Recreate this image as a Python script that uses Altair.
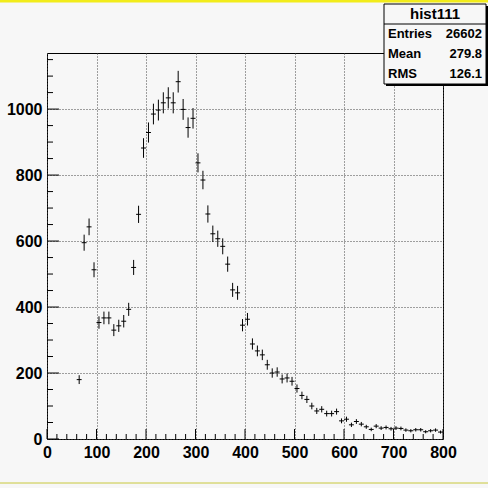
import altair as alt
import pandas as pd
import numpy as np

# ---- data ----
bin_centers = list(range(65, 800, 10))
counts = [180, 595, 643, 513, 353, 367, 367, 330, 343, 357, 393, 520, 681,
          882, 929, 985, 997, 1019, 1034, 1019, 1083, 999, 944, 972, 837, 785,
          682, 622, 607, 584,
          530, 452, 443, 345, 363, 288, 267, 255, 225, 200, 203, 182, 185, 175,
          153, 132, 120, 100, 85, 90, 77, 77, 83, 55,
          60, 43, 53, 45, 37, 29, 39, 33, 35, 31, 33, 32, 27, 25, 28, 28, 22,
          25, 27, 21]
x_major = [0, 100, 200, 300, 400, 500, 600, 700, 800]
x_minor = [v for v in range(0, 801, 20) if v % 100]
y_major = [0, 200, 400, 600, 800, 1000]
y_minor = [v for v in range(0, 1151, 50) if v % 200]
stat_title = "hist111"
stat_labels = ["Entries", "Mean", "RMS"]
stat_values = ["26602", "279.8", "126.1"]

W, H = 396, 386
FONT = "Liberation Sans"
BG = "#f7f7f7"

df = pd.DataFrame({"x": bin_centers, "n": counts})
df["lo"] = df["n"] - np.sqrt(df["n"])
df["hi"] = df["n"] + np.sqrt(df["n"])
df["x0"] = df["x"] - 5
df["x1"] = df["x"] + 5

xs = alt.Scale(domain=[0, 800], nice=False, zero=False)
ys = alt.Scale(domain=[0, 1170], nice=False, zero=False)

common_axis = dict(title=None, ticks=False, domain=False, labelFont=FONT,
                   labelFontWeight="bold", labelFontSize=16, labelColor="black",
                   grid=True, gridColor="#444444", gridDash=[1, 2], gridOpacity=1,
                   gridWidth=1, labelFlush=False, labelOverlap=False, format="d")
xaxis = alt.Axis(values=x_major, labelPadding=5, **common_axis)
yaxis = alt.Axis(values=y_major, labelPadding=5, **common_axis)

vbars = alt.Chart(df).mark_rule(color="black", strokeWidth=1).encode(
    x=alt.X("x:Q", scale=xs, axis=xaxis),
    y=alt.Y("lo:Q", scale=ys, axis=yaxis),
    y2="hi:Q",
)
hbars = alt.Chart(df).mark_rule(color="black", strokeWidth=1).encode(
    x=alt.X("x0:Q", scale=xs, axis=xaxis),
    x2="x1:Q",
    y=alt.Y("n:Q", scale=ys, axis=yaxis),
)

def xticks(vals, length):
    return alt.Chart(pd.DataFrame({"v": vals})).mark_rule(color="black", strokeWidth=1).encode(
        x=alt.X("v:Q", scale=xs, axis=xaxis),
        y=alt.value(H), y2=alt.value(H - length))

def yticks(vals, length):
    return alt.Chart(pd.DataFrame({"v": vals})).mark_rule(color="black", strokeWidth=1).encode(
        y=alt.Y("v:Q", scale=ys, axis=yaxis),
        x=alt.value(0), x2=alt.value(length))

one = pd.DataFrame({"a": [0]})
# stats box (positions relative to plot origin)
bx0, bx1, by0, by1 = 337, 439, -49, 31
shadow = alt.Chart(one).mark_rect(color="black").encode(
    x=alt.value(bx0 + 2), x2=alt.value(bx1 + 2), y=alt.value(by0 + 2), y2=alt.value(by1 + 2))
box = alt.Chart(one).mark_rect(fill=BG, stroke="black", strokeWidth=1).encode(
    x=alt.value(bx0), x2=alt.value(bx1), y=alt.value(by0), y2=alt.value(by1))
sep = alt.Chart(one).mark_rule(color="black", strokeWidth=1).encode(
    x=alt.value(bx0), x2=alt.value(bx1), y=alt.value(by0 + 20), y2=alt.value(by0 + 20))
title_txt = alt.Chart(one).mark_text(font=FONT, fontWeight="bold", fontSize=15,
                                     align="center", baseline="middle", color="black").encode(
    x=alt.value((bx0 + bx1) / 2), y=alt.value(by0 + 10), text=alt.value(stat_title))
stat_layers = []
for i, (lab, val) in enumerate(zip(stat_labels, stat_values)):
    yy = by0 + 30 + 20 * i
    stat_layers.append(alt.Chart(one).mark_text(font=FONT, fontWeight="bold", fontSize=13,
                                                align="left", baseline="middle", color="black").encode(
        x=alt.value(bx0 + 4), y=alt.value(yy), text=alt.value(lab)))
    stat_layers.append(alt.Chart(one).mark_text(font=FONT, fontWeight="bold", fontSize=13,
                                                align="right", baseline="middle", color="black").encode(
        x=alt.value(bx1 - 4), y=alt.value(yy), text=alt.value(val)))

top_line = alt.Chart(one).mark_rule(color="#f2ec1a", strokeWidth=3).encode(
    x=alt.value(-47), x2=alt.value(441), y=alt.value(-52), y2=alt.value(-52))
bot_line = alt.Chart(one).mark_rule(color="#c8c83c", strokeWidth=1).encode(
    x=alt.value(-47), x2=alt.value(441), y=alt.value(430), y2=alt.value(430))

chart = alt.layer(
    vbars, hbars,
    xticks(x_major, 10), xticks(x_minor, 5),
    yticks(y_major, 12), yticks(y_minor, 6),
    shadow, box, sep, title_txt, *stat_layers,
    top_line, bot_line,
).properties(
    width=W, height=H,
    autosize=alt.AutoSizeParams(type="none"),
    padding={"left": 47, "top": 53, "right": 45, "bottom": 49},
    background=BG,
).configure_view(stroke="black", strokeWidth=1)

chart.save("out.html", embed_options={"renderer": "svg", "actions": False})
